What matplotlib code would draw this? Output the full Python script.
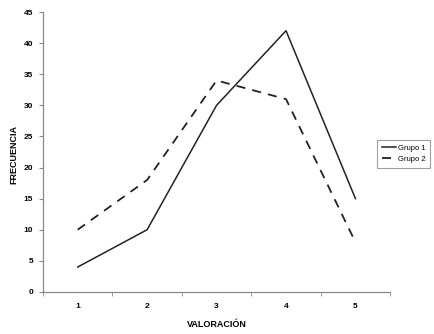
import matplotlib
matplotlib.use("Agg")
import matplotlib.pyplot as plt
from matplotlib.ticker import FixedLocator, NullFormatter

categories = ["1", "2", "3", "4", "5"]
grupo1 = [4, 10, 30, 42, 15]
grupo2 = [10, 18, 34, 31, 8]
series_names = ["Grupo 1", "Grupo 2"]
y_ticks = [0, 5, 10, 15, 20, 25, 30, 35, 40, 45]

plt.rcParams['font.family'] = ['Liberation Sans', 'DejaVu Sans']

fig = plt.figure(figsize=(4.34, 3.34), dpi=100)
ax = fig.add_axes([0.099, 0.126, 0.8, 0.838])

x = list(range(1, len(categories) + 1))
ax.plot(x, grupo1, color='#222222', lw=1.1, ls='-', label=series_names[0])
ax.plot(x, grupo2, color='#222222', lw=1.3, ls=(0, (5, 4)), label=series_names[1])

ax.set_xlim(0.5, len(categories) + 0.5)
ax.set_ylim(0, 45)
ax.set_yticks(y_ticks)
ax.set_yticklabels([str(v) for v in y_ticks], fontsize=6, fontweight='bold')
ax.set_xticks(x)
ax.set_xticklabels(categories, fontsize=6, fontweight='bold')
ax.tick_params(axis='x', which='major', length=0, pad=8)
ax.xaxis.set_minor_locator(FixedLocator([i + 0.5 for i in range(0, len(categories) + 1)]))
ax.xaxis.set_minor_formatter(NullFormatter())
ax.tick_params(axis='x', which='minor', length=3, color='#888888', direction='out')
ax.tick_params(axis='y', length=3, color='#888888', pad=4)

for s in ['top', 'right']:
    ax.spines[s].set_visible(False)
for s in ['left', 'bottom']:
    ax.spines[s].set_color('#888888')
    ax.spines[s].set_linewidth(0.9)

ax.set_ylabel('FRECUENCIA', fontsize=6.5, fontweight='bold')
ax.yaxis.set_label_coords(-0.072, 0.49)
ax.set_xlabel('VALORACIÓN', fontsize=6.5, fontweight='bold', labelpad=7)

leg = fig.legend(loc='upper left', bbox_to_anchor=(377/434, 1 - 140/334),
                 fontsize=5.5, frameon=True, fancybox=False, edgecolor='#888888',
                 handlelength=1.9, handletextpad=0.2, borderpad=0.6, labelspacing=0.5,
                 borderaxespad=0)
leg.get_frame().set_linewidth(0.8)

fig.savefig('out.png', dpi=100)
